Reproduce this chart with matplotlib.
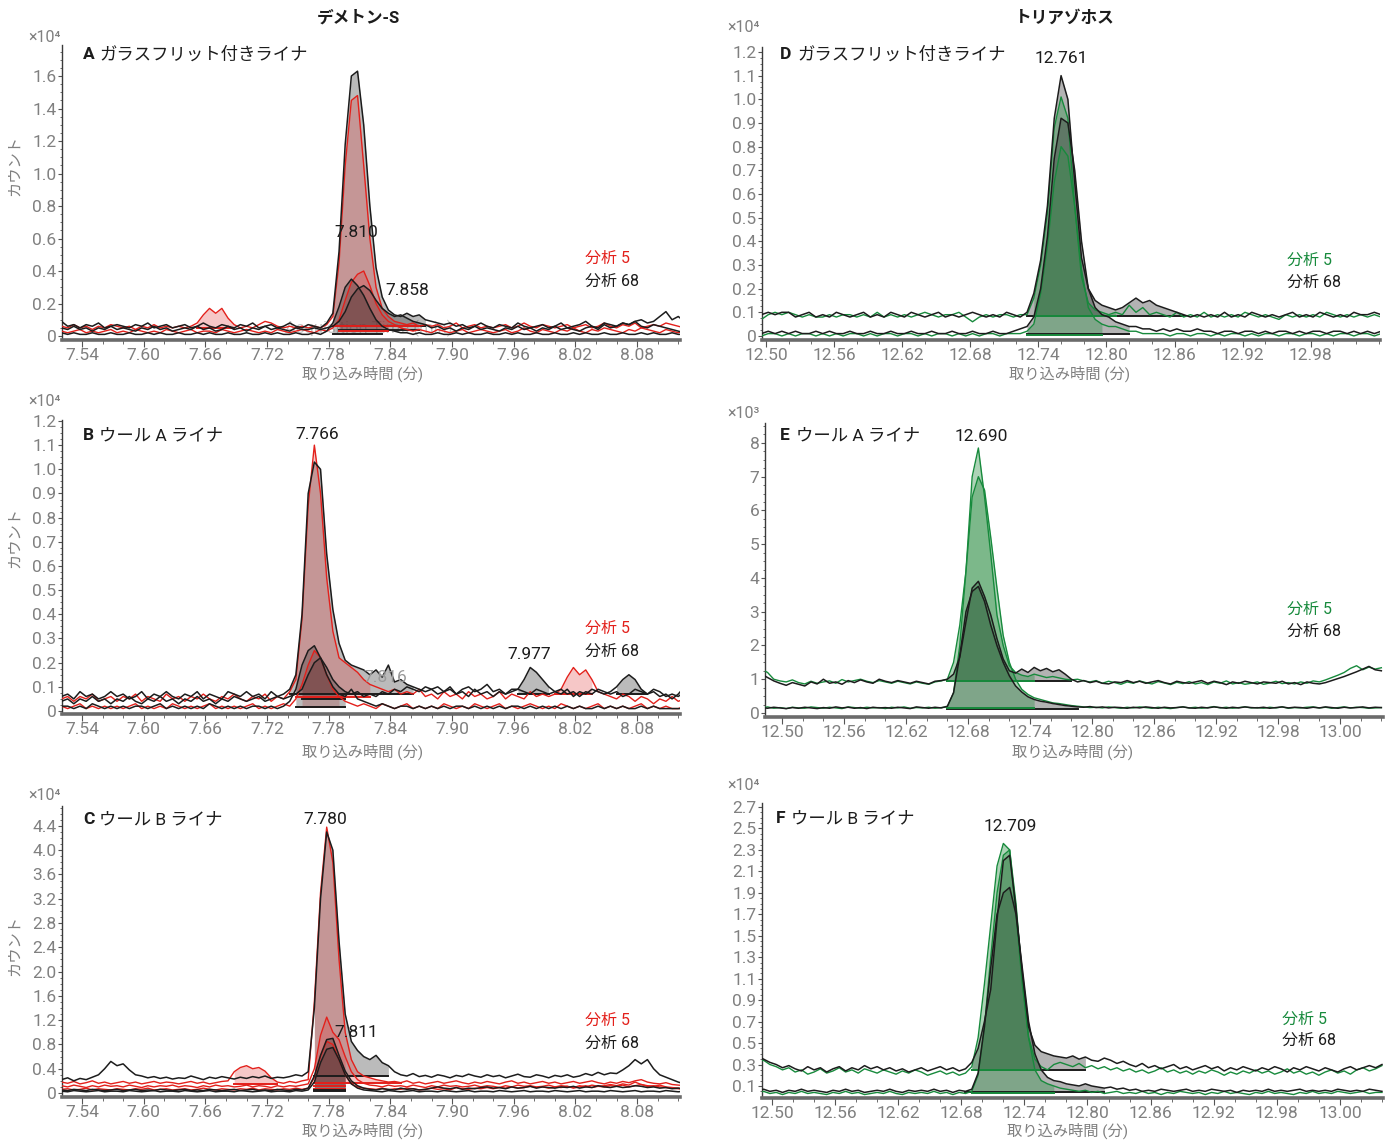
import numpy as np
import matplotlib
matplotlib.use("Agg")
import matplotlib.pyplot as plt
from matplotlib.ticker import AutoMinorLocator

plt.rcParams["font.family"] = ["Roboto", "Noto Sans CJK JP", "DejaVu Sans"]

RED, GREEN, BLACK = "#e3201b", "#178a3c", "#1c1c1c"
TICK_GRAY, AXIS_GRAY = "#808080", "#6b6b6b"

# ---- sampling grids (min) ----
DT = 0.006
T0_DEM, T0_D, T0_EF = 7.52, 12.49, 12.48

# ---- Demeton-S, A: glass frit liner (counts / 100, x10^4 axis) ----
A_r1 = [6, 5, 7, 5, 6, 4, 6, 5, 7, 6, 5, 6, 4, 6, 5, 7, 5, 6, 5, 6,
        5, 6, 8, 13, 17, 14, 17, 11, 7, 5, 6, 5, 7, 9, 8, 6, 5, 6, 5, 6,
        5, 6, 5, 7, 12, 45, 105, 145, 148, 105, 60, 30, 17, 12, 9, 8, 7, 8, 6, 7,
        6, 7, 5, 6, 8, 5, 6, 7, 5, 6, 5, 6, 7, 5, 6, 8, 6, 5, 7, 6,
        5, 6, 7, 5, 6, 7, 5, 6, 8, 6, 5, 7, 6, 8, 5, 6, 7, 6, 8, 7, 6, 5]
A_r2 = [3, 2, 3, 4, 2, 3, 2, 3, 4, 2, 3, 2, 4, 3, 2, 3, 2, 4, 3, 2,
        3, 4, 2, 3, 3, 2, 4, 3, 2, 3, 4, 3, 2, 3, 2, 4, 3, 2, 3, 4,
        3, 2, 4, 3, 5, 10, 22, 33, 38, 40, 31, 20, 13, 9, 7, 5, 4, 3, 4, 3,
        2, 4, 3, 2, 3, 4, 2, 3, 4, 3, 2, 3, 4, 2, 3, 5, 3, 2, 4, 3,
        2, 4, 3, 5, 3, 2, 4, 3, 5, 4, 3, 2, 4, 3, 5, 4, 3, 2, 4, 3, 2, 3]
A_k1 = [9, 6, 7, 5, 7, 6, 8, 5, 6, 7, 6, 5, 7, 6, 8, 5, 6, 7, 5, 6,
        7, 5, 6, 8, 6, 5, 7, 6, 5, 7, 6, 8, 5, 6, 7, 5, 6, 8, 6, 5,
        7, 6, 5, 8, 14, 52, 118, 160, 163, 130, 80, 42, 24, 16, 13, 12, 14, 12, 13, 10,
        9, 8, 7, 8, 6, 7, 5, 6, 8, 6, 5, 7, 6, 5, 8, 6, 5, 6, 7, 5,
        6, 8, 5, 6, 7, 9, 6, 5, 8, 7, 6, 8, 7, 9, 10, 8, 9, 12, 15, 10, 12, 9]
A_k2 = [2, 1, 2, 1, 1, 2, 1, 1, 2, 1, 1, 2, 1, 1, 2, 1, 2, 1, 1, 2,
        1, 1, 2, 1, 2, 1, 1, 2, 1, 1, 2, 1, 1, 2, 1, 2, 1, 1, 2, 1,
        1, 2, 1, 3, 8, 18, 30, 35, 31, 25, 17, 10, 6, 4, 3, 2, 2, 1, 2, 1,
        1, 2, 1, 1, 2, 1, 2, 1, 1, 2, 1, 1, 2, 1, 2, 1, 1, 2, 1, 1,
        2, 1, 1, 2, 1, 2, 1, 1, 2, 1, 1, 2, 1, 1, 2, 1, 2, 1, 1, 2, 1, 1]
A_k3 = [5, 4, 6, 4, 5, 3, 5, 4, 6, 4, 5, 4, 3, 5, 4, 6, 4, 5, 3, 4,
        5, 4, 6, 4, 5, 3, 4, 6, 4, 5, 3, 5, 4, 6, 4, 5, 4, 3, 5, 4,
        4, 5, 4, 5, 6, 9, 15, 24, 29, 31, 28, 22, 17, 14, 12, 13, 11, 9, 8, 7,
        5, 6, 4, 5, 3, 5, 4, 6, 4, 5, 4, 3, 5, 4, 6, 4, 5, 3, 5, 4,
        6, 4, 5, 4, 3, 5, 6, 4, 7, 5, 6, 8, 7, 9, 6, 5, 7, 6, 5, 4, 3, 2]
# integration windows: (trace, start, end, baseline)
A_int = [("k1", 7.784, 7.875, 6), ("r1", 7.784, 7.87, 6), ("k3", 7.79, 7.87, 4),
         ("r2", 7.79, 7.84, 3), ("k2", 7.784, 7.835, 1), ("r1", 7.65, 7.692, 5)]

# ---- Demeton-S, B: wool A liner ----
B_r1 = [5, 6, 4, 6, 5, 7, 4, 5, 6, 4, 6, 5, 7, 4, 6, 5, 4, 7, 5, 6,
        4, 6, 5, 7, 5, 4, 6, 5, 7, 5, 4, 6, 5, 7, 4, 6, 5, 8, 13, 38,
        85, 110, 90, 55, 33, 22, 20, 18, 16, 13, 11, 10, 9, 8, 9, 7, 8, 7, 9, 6,
        7, 5, 8, 6, 7, 5, 8, 6, 7, 5, 6, 8, 5, 7, 6, 5, 8, 6, 7, 6,
        7, 9, 14, 18, 15, 17, 13, 8, 7, 6, 5, 7, 6, 4, 6, 5, 3, 5, 4, 6, 4, 5]
B_r2 = [2, 1, 2, 3, 1, 2, 1, 2, 1, 2, 1, 2, 3, 1, 2, 1, 2, 1, 3, 2,
        1, 2, 1, 2, 3, 1, 2, 1, 2, 1, 2, 3, 1, 2, 1, 2, 3, 2, 5, 11,
        19, 25, 22, 15, 9, 6, 4, 3, 2, 3, 2, 1, 3, 2, 1, 2, 3, 1, 2, 1,
        2, 1, 3, 2, 1, 2, 1, 3, 2, 1, 2, 3, 1, 2, 1, 2, 3, 2, 1, 2,
        1, 3, 2, 1, 2, 1, 2, 3, 1, 2, 1, 2, 1, 2, 3, 1, 2, 1, 2, 1, 1, 2]
B_k1 = [6, 7, 5, 8, 6, 7, 5, 6, 8, 6, 7, 5, 6, 8, 5, 7, 6, 8, 6, 5,
        7, 6, 8, 5, 7, 6, 5, 8, 7, 6, 8, 6, 7, 5, 8, 6, 7, 9, 15, 40,
        90, 103, 100, 65, 42, 28, 21, 19, 18, 17, 15, 17, 14, 19, 12, 13, 11, 10, 9, 8,
        9, 7, 8, 10, 7, 8, 6, 9, 7, 8, 6, 8, 7, 9, 9, 13, 18, 16, 13, 10,
        8, 7, 9, 6, 8, 7, 9, 8, 7, 8, 10, 13, 15, 13, 9, 7, 8, 6, 7, 5, 7, 10]
B_k2 = [2, 2, 1, 2, 1, 3, 2, 1, 2, 1, 2, 1, 2, 2, 1, 2, 3, 1, 2, 1,
        2, 1, 2, 1, 3, 2, 1, 2, 1, 2, 1, 2, 2, 1, 2, 1, 2, 4, 9, 19,
        25, 27, 22, 15, 10, 7, 6, 9, 5, 4, 3, 2, 3, 2, 1, 2, 2, 1, 2, 1,
        2, 1, 2, 1, 2, 2, 1, 2, 1, 2, 1, 2, 1, 2, 2, 1, 2, 1, 2, 1,
        2, 1, 2, 1, 2, 1, 1, 2, 1, 2, 1, 2, 1, 1, 2, 1, 2, 1, 1, 1, 1, 1]
B_k3 = [4, 5, 3, 5, 4, 6, 4, 5, 3, 5, 4, 6, 4, 3, 5, 4, 6, 4, 5, 3,
        5, 4, 6, 4, 5, 3, 5, 4, 6, 5, 4, 5, 6, 4, 5, 6, 5, 6, 7, 9,
        15, 20, 22, 18, 13, 10, 8, 7, 8, 6, 7, 6, 8, 7, 9, 8, 10, 9, 8, 10,
        9, 10, 8, 9, 7, 9, 10, 8, 9, 11, 8, 9, 7, 8, 9, 8, 7, 9, 8, 7,
        8, 9, 7, 8, 6, 8, 7, 9, 8, 7, 8, 6, 7, 9, 8, 7, 9, 8, 6, 7, 6, 8]
B_int = [("k1", 7.742, 7.862, 7), ("r1", 7.745, 7.82, 6), ("k3", 7.754, 7.80, 5),
         ("r2", 7.75, 7.79, 1.5), ("k2", 7.745, 7.80, 1.5),
         ("k1", 7.962, 7.997, 7), ("r1", 8.0, 8.04, 7), ("k1", 8.06, 8.09, 7)]

# ---- Demeton-S, C: wool B liner ----
C_r1 = [18, 16, 19, 15, 17, 20, 16, 18, 15, 17, 19, 16, 18, 15, 17, 19, 16, 18, 17, 15,
        17, 19, 16, 18, 15, 17, 19, 20, 35, 42, 45, 40, 42, 36, 25, 18, 16, 19, 17, 20,
        22, 150, 330, 438, 380, 220, 100, 55, 35, 28, 25, 22, 20, 18, 19, 17, 20, 16, 18, 15,
        17, 19, 16, 18, 20, 17, 15, 18, 16, 19, 17, 15, 18, 20, 16, 18, 15, 17, 19, 16,
        18, 15, 17, 19, 16, 18, 20, 17, 15, 18, 16, 19, 17, 20, 22, 18, 16, 15, 17, 14, 13, 12]
C_r2 = [12, 10, 13, 11, 9, 12, 10, 13, 11, 12, 10, 13, 11, 9, 12, 10, 12, 11, 13, 10,
        12, 11, 9, 12, 10, 13, 11, 12, 10, 11, 13, 10, 12, 11, 9, 12, 10, 12, 11, 13,
        15, 40, 95, 125, 100, 88, 60, 35, 22, 16, 13, 12, 10, 13, 11, 12, 10, 13, 11, 9,
        12, 10, 13, 11, 12, 10, 11, 13, 10, 12, 11, 9, 12, 10, 13, 11, 12, 10, 11, 13,
        10, 12, 11, 9, 12, 10, 13, 11, 12, 14, 12, 15, 13, 18, 14, 12, 11, 13, 10, 9, 8, 7]
C_r3 = [6, 7, 5, 6, 8, 5, 7, 6, 5, 7, 6, 5, 7, 6, 8, 5, 6, 7, 5, 6,
        7, 5, 6, 8, 6, 5, 7, 6, 5, 7, 6, 8, 5, 7, 6, 5, 7, 6, 8, 6,
        8, 25, 60, 85, 80, 55, 30, 15, 10, 8, 7, 6, 8, 5, 7, 6, 8, 7, 5, 6,
        8, 6, 7, 5, 9, 7, 6, 8, 7, 9, 7, 9, 8, 10, 8, 9, 11, 9, 10, 8,
        10, 9, 11, 8, 10, 12, 9, 11, 10, 12, 11, 13, 10, 12, 14, 11, 12, 10, 9, 8, 7, 6]
C_k1 = [22, 25, 20, 24, 22, 26, 30, 40, 52, 45, 48, 38, 30, 28, 25, 27, 24, 26, 23, 25,
        24, 28, 25, 22, 26, 24, 27, 25, 23, 26, 24, 27, 25, 28, 24, 26, 25, 27, 30, 28,
        35, 140, 320, 430, 400, 250, 130, 85, 70, 60, 55, 62, 50, 45, 35, 30, 28, 32, 27, 29,
        26, 30, 28, 25, 29, 27, 31, 28, 26, 30, 27, 29, 25, 28, 31, 27, 26, 30, 28, 25,
        29, 27, 30, 26, 28, 32, 29, 34, 30, 33, 32, 38, 45, 55, 48, 55, 40, 30, 26, 22, 18, 15]
C_k2 = [5, 4, 6, 5, 4, 6, 5, 4, 5, 6, 4, 5, 6, 4, 5, 4, 6, 5, 4, 5,
        6, 4, 5, 4, 6, 5, 4, 5, 6, 4, 5, 6, 4, 5, 4, 6, 5, 4, 6, 5,
        8, 28, 62, 88, 90, 62, 36, 20, 12, 8, 6, 5, 7, 6, 5, 8, 6, 7, 5, 6,
        8, 10, 8, 7, 9, 6, 8, 7, 9, 10, 8, 9, 7, 10, 8, 9, 11, 8, 10, 9,
        8, 10, 9, 11, 8, 10, 9, 12, 10, 9, 11, 9, 10, 12, 11, 9, 10, 8, 9, 7, 8, 6]
C_k3 = [3, 2, 4, 3, 2, 3, 4, 2, 3, 3, 2, 4, 3, 2, 3, 4, 2, 3, 3, 2,
        4, 3, 2, 3, 4, 2, 3, 3, 2, 4, 3, 2, 3, 4, 2, 3, 3, 2, 4, 3,
        5, 18, 50, 72, 75, 55, 30, 15, 8, 5, 4, 3, 2, 4, 3, 2, 3, 4, 2, 3,
        3, 2, 4, 3, 2, 3, 4, 2, 3, 3, 2, 4, 3, 2, 3, 4, 2, 3, 3, 2,
        4, 3, 2, 3, 4, 2, 3, 3, 2, 4, 3, 2, 3, 4, 2, 3, 3, 2, 4, 3, 2, 3]
C_int = [("k1", 7.762, 7.84, 28), ("r1", 7.762, 7.85, 16), ("r2", 7.765, 7.80, 12),
         ("r3", 7.765, 7.80, 7), ("k2", 7.765, 7.80, 5), ("k3", 7.766, 7.80, 3),
         ("r1", 7.686, 7.735, 14)]

# ---- Triazophos, D: glass frit liner ----
D_g1 = [8, 7, 9, 10, 9, 10, 9, 8, 9, 8, 8, 9, 8, 9, 9, 8, 9, 8, 10, 8,
        9, 8, 9, 8, 9, 10, 9, 8, 9, 9, 10, 8, 6, 8, 9, 8, 9, 9, 8, 9,
        9, 16, 30, 52, 88, 101, 92, 55, 25, 14, 11, 10, 9, 10, 9, 13, 10, 12, 9, 10,
        9, 8, 10, 8, 9, 8, 10, 8, 9, 8, 9, 8, 10, 9, 8, 9, 8, 7, 9, 8,
        9, 8, 9, 8, 10, 9, 8, 9, 8, 9, 8, 9, 8]
D_g2 = [1, 0, 1, 1, 0, 1, 0, 1, 1, 0, 1, 0, 1, 0, 1, 1, 0, 1, 0, 1,
        1, 0, 1, 1, 0, 1, 0, 1, 1, 0, 1, 0, 1, 0, 1, 1, 0, 1, 1, 1,
        2, 5, 18, 38, 65, 80, 76, 55, 28, 12, 7, 5, 4, 4, 3, 2, 2, 1, 1, 1,
        1, 0, 1, 1, 0, 1, 1, 0, 1, 0, 1, 1, 0, 1, 0, 1, 1, 0, 1, 1,
        0, 1, 1, 0, 1, 0, 1, 1, 0, 1, 1, 0, 1]
D_k1 = [8, 9, 10, 9, 10, 10, 8, 9, 10, 8, 9, 8, 10, 9, 8, 9, 10, 8, 9, 8,
        10, 9, 8, 10, 9, 8, 9, 10, 8, 9, 8, 9, 10, 9, 8, 9, 8, 10, 9, 8,
        10, 18, 32, 55, 92, 110, 100, 65, 33, 20, 15, 13, 12, 11, 12, 14, 16, 14, 15, 13,
        12, 11, 10, 9, 8, 9, 8, 9, 8, 10, 8, 9, 8, 10, 9, 8, 9, 8, 9, 10,
        8, 9, 8, 10, 9, 8, 9, 8, 10, 9, 9, 10, 9]
D_k2 = [2, 1, 2, 1, 2, 1, 2, 1, 1, 2, 1, 2, 1, 1, 2, 1, 1, 2, 1, 1,
        2, 1, 1, 2, 1, 1, 2, 1, 1, 2, 1, 1, 2, 1, 1, 2, 1, 1, 2, 3,
        4, 8, 20, 42, 75, 92, 90, 70, 40, 20, 12, 9, 8, 6, 5, 4, 4, 3, 3, 2,
        3, 2, 3, 2, 2, 3, 2, 2, 1, 2, 2, 1, 2, 2, 1, 2, 1, 2, 2, 1,
        2, 1, 2, 2, 1, 2, 2, 1, 2, 1, 2, 1, 2]
D_int = [("k1", 12.73, 12.868, 8.5), ("g1", 12.732, 12.81, 8.5),
         ("k2", 12.728, 12.82, 1), ("g2", 12.73, 12.80, 0.5)]

# ---- Triazophos, E: wool A liner (counts / 10, x10^3 axis) ----
E_g1 = [130, 120, 100, 95, 92, 98, 90, 86, 94, 88, 92, 95, 88, 99, 92, 96, 100, 94, 90, 96,
        92, 88, 94, 90, 86, 92, 88, 85, 92, 95, 100, 150, 260, 420, 700, 785, 640, 470, 290, 200,
        140, 120, 112, 108, 115, 110, 105, 108, 104, 100, 98, 100, 95, 92, 96, 88, 94, 90, 85, 92,
        88, 95, 90, 86, 93, 89, 84, 91, 87, 93, 86, 90, 84, 92, 88, 95, 86, 90, 85, 88,
        92, 85, 89, 94, 87, 90, 86, 92, 88, 95, 92, 98, 105, 112, 120, 132, 140, 128, 136, 130, 134]
E_g2 = [15, 18, 14, 16, 13, 17, 15, 14, 18, 16, 14, 17, 15, 13, 18, 16, 14, 17, 15, 16,
        13, 17, 15, 18, 14, 16, 15, 17, 14, 16, 18, 60, 200, 420, 640, 700, 660, 520, 370, 230,
        150, 100, 70, 55, 45, 40, 35, 30, 28, 25, 22, 20, 18, 16, 17, 15, 18, 16, 14, 17,
        15, 18, 16, 14, 17, 15, 13, 16, 18, 15, 17, 14, 16, 19, 15, 17, 14, 16, 18, 15,
        16, 14, 17, 15, 18, 14, 16, 15, 17, 18, 15, 17, 14, 16, 18, 15, 17, 16, 14, 15, 16]
E_k1 = [115, 105, 95, 88, 82, 90, 85, 80, 92, 86, 100, 88, 92, 85, 96, 90, 98, 92, 88, 100,
        94, 90, 96, 92, 88, 94, 90, 86, 94, 96, 100, 115, 165, 270, 370, 390, 345, 290, 220, 160,
        125, 118, 130, 120, 135, 125, 132, 122, 128, 115, 100, 92, 96, 90, 94, 88, 86, 92, 90, 96,
        90, 94, 88, 92, 96, 90, 86, 94, 90, 88, 92, 96, 88, 94, 90, 84, 92, 88, 94, 90,
        86, 92, 90, 88, 94, 86, 90, 84, 92, 88, 86, 90, 96, 102, 108, 115, 122, 130, 138, 128, 125]
E_k2 = [16, 14, 17, 15, 13, 16, 14, 17, 15, 13, 16, 14, 18, 15, 17, 14, 16, 13, 17, 15,
        16, 14, 17, 15, 13, 18, 16, 14, 17, 15, 20, 60, 170, 300, 360, 375, 330, 260, 200, 150,
        110, 80, 62, 48, 40, 35, 32, 28, 25, 22, 20, 18, 17, 19, 16, 18, 15, 17, 16, 14,
        17, 15, 18, 16, 14, 17, 15, 16, 18, 15, 14, 17, 15, 18, 16, 14, 17, 15, 18, 16,
        15, 17, 14, 16, 18, 15, 17, 16, 14, 17, 15, 18, 16, 14, 17, 15, 16, 18, 15, 17, 16]
E_int = [("k1", 12.655, 12.78, 95), ("g1", 12.655, 12.745, 95),
         ("k2", 12.655, 12.79, 12), ("g2", 12.658, 12.745, 15)]

# ---- Triazophos, F: wool B liner (counts / 100, x10^4 axis) ----
F_g1 = [28, 32, 34, 30, 28, 25, 27, 23, 25, 21, 23, 26, 22, 24, 27, 23, 25, 22, 26, 24,
        22, 25, 23, 21, 24, 22, 25, 23, 20, 22, 24, 21, 23, 20, 22, 28, 55, 105, 160, 215,
        236, 230, 170, 105, 55, 35, 28, 25, 30, 32, 30, 28, 31, 27, 29, 26, 28, 25, 27, 24,
        26, 23, 25, 22, 24, 27, 23, 25, 22, 24, 21, 24, 22, 25, 23, 20, 23, 21, 24, 22,
        25, 22, 24, 21, 23, 26, 22, 24, 21, 23, 20, 23, 25, 22, 24, 21, 25, 27, 24, 26, 29]
F_g2 = [4, 3, 5, 3, 4, 2, 4, 3, 5, 3, 4, 3, 2, 4, 3, 5, 3, 4, 2, 3,
        4, 3, 5, 3, 2, 4, 3, 4, 3, 5, 3, 4, 2, 4, 3, 5, 20, 65, 130, 190,
        225, 230, 180, 110, 55, 25, 15, 12, 10, 8, 7, 6, 5, 6, 4, 5, 3, 4, 5, 3,
        4, 3, 5, 3, 4, 2, 4, 3, 5, 4, 3, 4, 2, 4, 3, 5, 3, 4, 3, 2,
        4, 3, 5, 3, 4, 3, 2, 4, 3, 5, 3, 4, 3, 5, 4, 3, 4, 5, 3, 4, 4]
F_k1 = [36, 38, 35, 32, 30, 27, 29, 26, 24, 28, 25, 27, 23, 26, 28, 24, 27, 25, 29, 26,
        28, 25, 27, 24, 26, 23, 25, 27, 24, 26, 28, 25, 27, 24, 26, 32, 45, 70, 100, 165,
        220, 225, 175, 115, 65, 48, 42, 40, 38, 37, 36, 38, 35, 37, 34, 33, 36, 34, 31, 33,
        30, 28, 31, 27, 29, 26, 28, 30, 26, 28, 25, 27, 29, 26, 28, 24, 27, 25, 28, 26,
        24, 27, 25, 28, 26, 23, 27, 25, 28, 26, 24, 27, 25, 23, 26, 28, 25, 27, 29, 27, 30]
F_k2 = [6, 5, 7, 5, 6, 4, 6, 5, 7, 5, 6, 5, 4, 6, 5, 7, 5, 6, 4, 5,
        6, 5, 7, 5, 4, 6, 5, 6, 5, 7, 5, 6, 4, 6, 5, 7, 22, 65, 120, 170,
        190, 195, 170, 120, 70, 40, 25, 18, 15, 14, 12, 11, 10, 12, 10, 9, 8, 9, 7, 8,
        6, 7, 5, 6, 5, 7, 6, 5, 6, 7, 5, 6, 5, 7, 6, 5, 6, 4, 6, 5,
        6, 5, 7, 5, 6, 5, 6, 7, 5, 6, 5, 6, 5, 7, 6, 5, 6, 5, 7, 6, 5]
F_int = [("k1", 12.69, 12.80, 25), ("g1", 12.69, 12.76, 25),
         ("k2", 12.684, 12.82, 4), ("g2", 12.686, 12.77, 3)]

# ---- ticks and labels ----
DEM_XT = [7.54, 7.60, 7.66, 7.72, 7.78, 7.84, 7.90, 7.96, 8.02, 8.08]
D_XT = [12.50, 12.56, 12.62, 12.68, 12.74, 12.80, 12.86, 12.92, 12.98]
EF_XT = [12.50, 12.56, 12.62, 12.68, 12.74, 12.80, 12.86, 12.92, 12.98, 13.04]
EF_XL = ["12.50", "12.56", "12.62", "12.68", "12.74", "12.80", "12.86", "12.92", "12.98", "13.00"]
A_YT = [0, 0.2, 0.4, 0.6, 0.8, 1.0, 1.2, 1.4, 1.6]
B_YT = [0, 0.1, 0.2, 0.3, 0.4, 0.5, 0.6, 0.7, 0.8, 0.9, 1.0, 1.1, 1.2]
C_YT = [0, 0.4, 0.8, 1.2, 1.6, 2.0, 2.4, 2.8, 3.2, 3.6, 4.0, 4.4]
E_YT = [0, 1, 2, 3, 4, 5, 6, 7, 8]
F_YT = [0.1, 0.3, 0.5, 0.7, 0.9, 1.1, 1.3, 1.5, 1.7, 1.9, 2.1, 2.3, 2.5, 2.7]

LINE = {"r": RED, "g": GREEN, "k": BLACK}
FILL_DEM = {"r": ((0.88, 0.2, 0.2), 0.27), "k": ((0.2, 0.2, 0.2), 0.33)}
FILL_TRI = {"g": ((0.2, 0.57, 0.29), 0.40), "k": ((0.15, 0.15, 0.15), 0.35)}

W, H = 1395, 1140
fig = plt.figure(figsize=(W / 100, H / 100), dpi=100)


def add_ax(x0, x1, y0, y1):
    return fig.add_axes([x0 / W, 1 - y1 / H, (x1 - x0) / W, (y1 - y0) / H])


def fmt(v, dec):
    return "0" if v == 0 else f"{v:.{dec}f}"


def draw(ax, t0, traces, integ, fills):
    for key, a, b, base in integ:
        y = np.asarray(traces[key], float) / 100
        t = t0 + DT * np.arange(len(y))
        m = (t >= a - 1e-9) & (t <= b + 1e-9)
        fc, al = fills[key[0]]
        ax.fill_between(t[m], base / 100, np.maximum(y[m], base / 100),
                        color=fc, alpha=al, lw=0, zorder=2)
        ax.plot([t[m][0], t[m][-1]], [base / 100] * 2, color=LINE[key[0]], lw=1.4, zorder=3)
    for key, vals in traces.items():
        y = np.asarray(vals, float) / 100
        t = t0 + DT * np.arange(len(y))
        ax.plot(t, y, color=LINE[key[0]], lw=1.0 if key[0] != "k" else 1.1, zorder=4)


def style(ax, xlim, ylim, xt, xl, yt, dec=1):
    ax.set_xlim(*xlim); ax.set_ylim(*ylim)
    for s in ("top", "right"):
        ax.spines[s].set_visible(False)
    ax.spines["left"].set_color("#3a3a3a"); ax.spines["left"].set_linewidth(1.0)
    ax.spines["bottom"].set_color(AXIS_GRAY); ax.spines["bottom"].set_linewidth(2.6)
    ax.set_xticks(xt); ax.set_xticklabels(xl)
    ax.set_yticks(yt); ax.set_yticklabels([fmt(v, dec) for v in yt])
    ax.xaxis.set_minor_locator(AutoMinorLocator(3))
    ax.yaxis.set_minor_locator(AutoMinorLocator(4))
    ax.tick_params(axis="both", which="both", color="#555555", labelcolor=TICK_GRAY, labelsize=12.5)
    ax.tick_params(axis="x", which="major", length=5, pad=1)
    ax.tick_params(axis="x", which="minor", length=3)
    ax.tick_params(axis="y", which="major", length=3, pad=1)
    ax.tick_params(axis="y", which="minor", length=1.5)


def panel_label(ax, letter, text, fx, fy, dx):
    ax.text(fx, fy, letter, transform=ax.transAxes, fontsize=12.5, fontweight="bold",
            color=BLACK, va="center", ha="left")
    ax.text(fx + dx, fy, text, transform=ax.transAxes, fontsize=12.5,
            color=BLACK, va="center", ha="left")


def legend(ax, fx, fy1, fy2, col):
    ax.text(fx, fy1, "分析 5", transform=ax.transAxes, fontsize=11.5, color=col, va="center")
    ax.text(fx, fy2, "分析 68", transform=ax.transAxes, fontsize=11.5, color=BLACK, va="center")


# ---------- Demeton-S ----------
axA = add_ax(62, 680, 45, 340)
axA.text(7.819, 0.05, "Acquisition Time (min)", fontsize=12, color="#c4c4c4", ha="center",
         va="center", zorder=1)
draw(axA, T0_DEM, {"r1": A_r1, "r2": A_r2, "k1": A_k1, "k2": A_k2, "k3": A_k3}, A_int, FILL_DEM)
style(axA, (7.5205, 8.1217), (-0.0246, 1.791), DEM_XT, [f"{v:.2f}" for v in DEM_XT], A_YT)
panel_label(axA, "A", "ガラスフリット付きライナ", 0.034, 0.969, 0.026)
axA.text(7.8066, 0.64, "7.810", fontsize=12.5, color=BLACK, ha="center", va="center", zorder=5)
axA.text(7.856, 0.277, "7.858", fontsize=12.5, color=BLACK, ha="center", va="center", zorder=5)
legend(axA, 0.846, 0.278, 0.2, RED)

axB = add_ax(62, 680, 420, 714)
draw(axB, T0_DEM, {"r1": B_r1, "r2": B_r2, "k1": B_k1, "k2": B_k2, "k3": B_k3}, B_int, FILL_DEM)
style(axB, (7.5205, 8.1217), (-0.0124, 1.204), DEM_XT, [f"{v:.2f}" for v in DEM_XT], B_YT)
panel_label(axB, "B", "ウール A ライナ", 0.034, 0.946, 0.026)
axB.text(7.7686, 1.146, "7.766", fontsize=12.5, color=BLACK, ha="center", va="center", zorder=5)
axB.text(7.975, 0.232, "7.977", fontsize=12.5, color=BLACK, ha="center", va="center", zorder=5)
axB.text(7.835, 0.137, "7.816", fontsize=12.5, color="#9a9a9a", ha="center", va="center", zorder=5)
legend(axB, 0.846, 0.293, 0.214, RED)

axC = add_ax(62, 680, 806, 1097)
draw(axC, T0_DEM, {"r1": C_r1, "r2": C_r2, "r3": C_r3, "k1": C_k1, "k2": C_k2, "k3": C_k3},
     C_int, FILL_DEM)
style(axC, (7.5205, 8.1217), (-0.066, 4.728), DEM_XT, [f"{v:.2f}" for v in DEM_XT], C_YT)
panel_label(axC, "C", "ウール B ライナ", 0.034, 0.952, 0.026)
axC.text(7.777, 4.50, "7.780", fontsize=12.5, color=BLACK, ha="center", va="center", zorder=5)
axC.text(7.8066, 1.0, "7.811", fontsize=12.5, color=BLACK, ha="center", va="center", zorder=5)
legend(axC, 0.846, 0.265, 0.186, RED)

# ---------- Triazophos ----------
axD = add_ax(762, 1380, 47, 340)
draw(axD, T0_D, {"g1": D_g1, "g2": D_g2, "k1": D_k1, "k2": D_k2}, D_int, FILL_TRI)
style(axD, (12.4965, 13.041), (-0.017, 1.221), D_XT, [f"{v:.2f}" for v in D_XT], B_YT)
panel_label(axD, "D", "ガラスフリット付きライナ", 0.029, 0.976, 0.028)
axD.text(12.760, 1.174, "12.761", fontsize=12.5, color=BLACK, ha="center", va="center", zorder=5)
legend(axD, 0.85, 0.273, 0.198, GREEN)

axE = add_ax(765, 1383, 423, 717)
draw(axE, T0_EF, {"g1": E_g1, "g2": E_g2, "k1": E_k1, "k2": E_k2}, E_int, FILL_TRI)
style(axE, (12.4835, 13.0816), (-0.119, 8.59), EF_XT, EF_XL, E_YT, dec=0)
panel_label(axE, "E", "ウール A ライナ", 0.024, 0.956, 0.026)
axE.text(12.6926, 8.2, "12.690", fontsize=12.5, color=BLACK, ha="center", va="center", zorder=5)
legend(axE, 0.845, 0.367, 0.293, GREEN)

axF = add_ax(762, 1383, 803, 1098)
draw(axF, T0_EF, {"g1": F_g1, "g2": F_g2, "k1": F_k1, "k2": F_k2}, F_int, FILL_TRI)
style(axF, (12.4905, 13.081), (-0.012, 2.737), EF_XT, EF_XL, F_YT)
panel_label(axF, "F", "ウール B ライナ", 0.023, 0.946, 0.023)
axF.text(12.727, 2.52, "12.709", fontsize=12.5, color=BLACK, ha="center", va="center", zorder=5)
legend(axF, 0.837, 0.268, 0.197, GREEN)

# ---------- shared text ----------
def ftext(x, y, s, **kw):
    fig.text(x / W, 1 - y / H, s, ha="center", va="center", **kw)


ftext(358, 18, "デメトン-S", fontsize=12, fontweight="bold", color=BLACK)
ftext(1065, 18, "トリアゾホス", fontsize=12, fontweight="bold", color=BLACK)
for x, y, s in [(44, 38, "×10⁴"), (44, 402, "×10⁴"), (44, 796, "×10⁴"),
                (743, 27, "×10⁴"), (743, 413, "×10³"), (743, 785, "×10⁴")]:
    ftext(x, y, s, fontsize=11.5, color=TICK_GRAY)
for y in (165, 537, 945):
    ftext(15, y, "カウント", fontsize=11, color=TICK_GRAY, rotation=90)
for x, y in [(363, 374), (363, 752), (363, 1131), (1070, 374), (1073, 752), (1068, 1131)]:
    ftext(x, y, "取り込み時間 (分)", fontsize=11, color=TICK_GRAY)

fig.savefig("out.png", dpi=100)
